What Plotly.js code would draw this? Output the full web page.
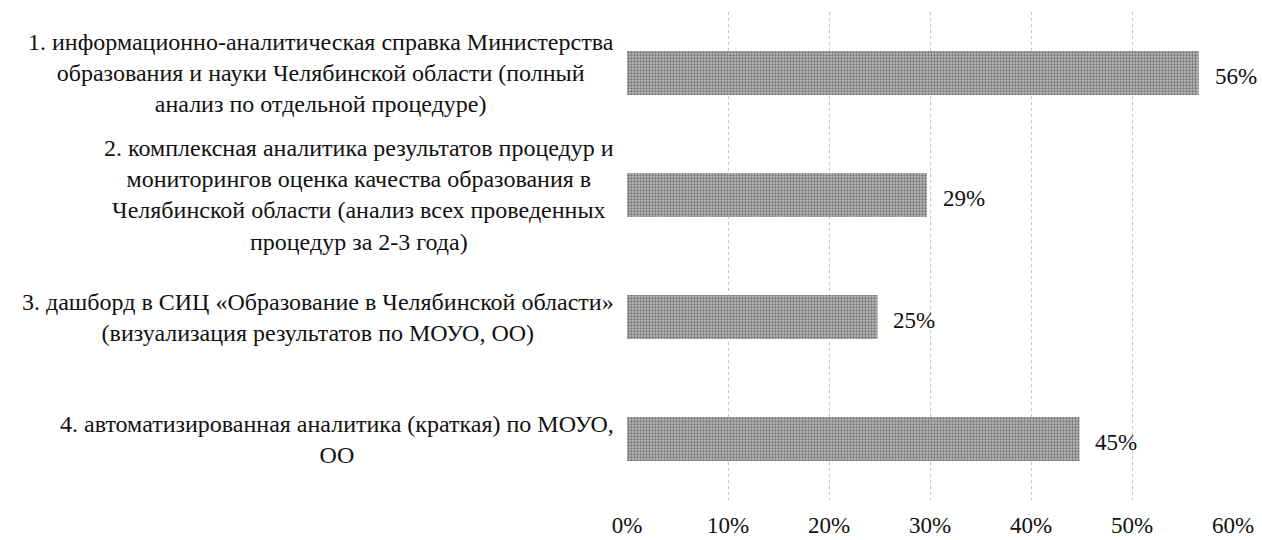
<!DOCTYPE html>
<html>
<head>
<meta charset="utf-8">
<script src="https://cdn.plot.ly/plotly-3.0.1.min.js"></script>
<style>html,body{margin:0;padding:0;background:#fff;}#chart{width:1262px;height:540px;}</style>
</head>
<body>
<div id="chart"></div>
<script>
const categories = [
  "1. информационно-аналитическая справка Министерства<br>образования и науки Челябинской области (полный<br>анализ по отдельной процедуре)",
  "2. комплексная аналитика результатов процедур и<br>мониторингов оценка качества образования в<br>Челябинской области (анализ всех проведенных<br>процедур за 2-3 года)",
  "3. дашборд в СИЦ «Образование в Челябинской области»<br>(визуализация результатов по МОУО, ОО)",
  "4. автоматизированная аналитика (краткая) по МОУО,<br>ОО"
];
const values = [56.6, 29.7, 24.8, 44.8];
const valueLabels = ["56%", "29%", "25%", "45%"];
const tickVals = [0, 10, 20, 30, 40, 50, 60];
const tickText = ["0%", "10%", "20%", "30%", "40%", "50%", "60%"];

const FONT = "'Liberation Serif', 'Times New Roman', 'DejaVu Serif', serif";
const yIdx = categories.map((c, i) => i);

const trace = {
  type: "bar",
  orientation: "h",
  x: values,
  y: yIdx,
  marker: {
    color: "#a4a4a4",
    line: {width: 0},
    pattern: {shape: ".", fgcolor: "#727272", bgcolor: "#bcbcbc", size: 3, solidity: 0.45}
  },
  hoverinfo: "skip"
};

const annotations = [];
categories.forEach((c, i) => {
  annotations.push({
    xref: "paper", yref: "y", x: -0.018, y: i,
    xanchor: "right", yanchor: "middle", align: "center",
    text: c, showarrow: false,
    font: {family: FONT, size: 24, color: "#111"}
  });
  annotations.push({
    xref: "x", yref: "y", x: values[i], y: i,
    xanchor: "left", yanchor: "middle", xshift: 14, yshift: -3,
    text: valueLabels[i], showarrow: false,
    font: {family: FONT, size: 23, color: "#111"}
  });
});

const layout = {
  width: 1262, height: 540,
  margin: {l: 627, r: 29, t: 12, b: 40, pad: 0},
  paper_bgcolor: "#fff", plot_bgcolor: "#fff",
  showlegend: false,
  bargap: 0.64,
  xaxis: {
    range: [0, 60], tickvals: tickVals, ticktext: tickText,
    showgrid: true, gridcolor: "#c4c4c4", griddash: "dot", gridwidth: 1,
    zeroline: false, showline: false, ticks: "",
    ticklabelstandoff: 9,
    tickfont: {family: FONT, size: 23, color: "#111"},
    fixedrange: true
  },
  yaxis: {
    range: [3.5, -0.5], showticklabels: false, showgrid: false,
    zeroline: false, showline: false, ticks: "", fixedrange: true
  },
  annotations: annotations,
  font: {family: FONT, color: "#111"}
};

Plotly.newPlot("chart", [trace], layout, {displayModeBar: false, staticPlot: true});
</script>
</body>
</html>
